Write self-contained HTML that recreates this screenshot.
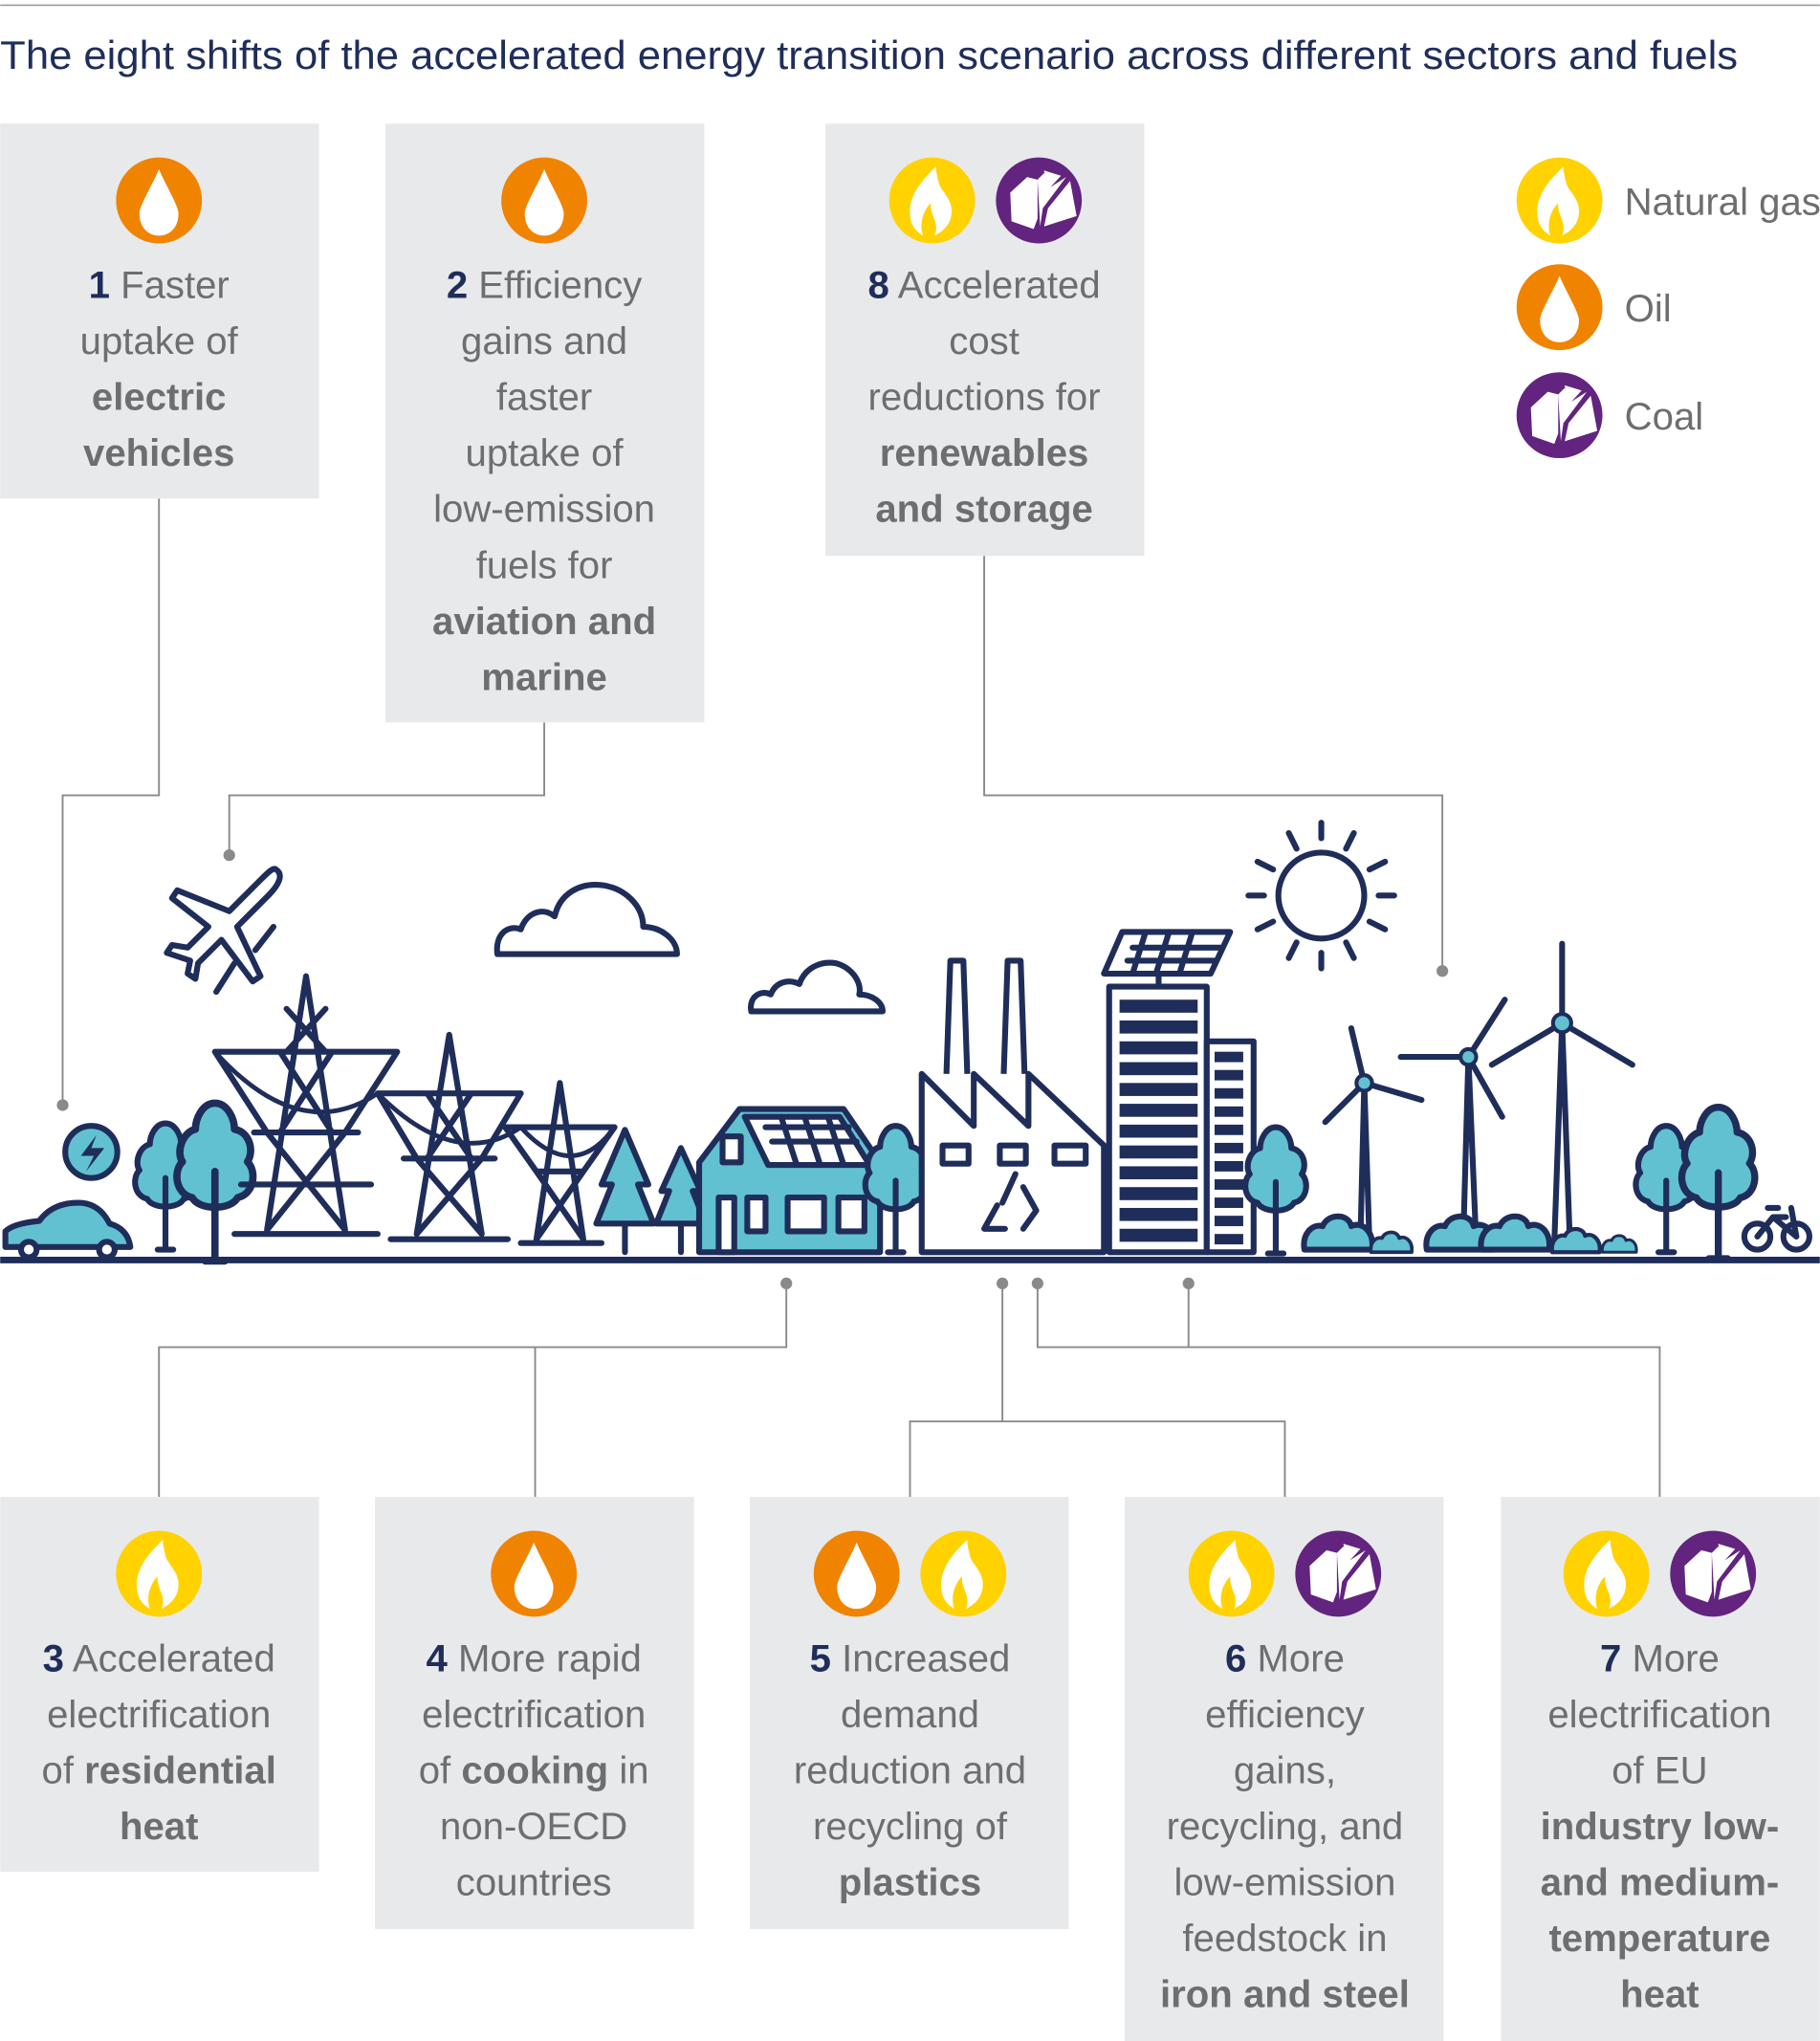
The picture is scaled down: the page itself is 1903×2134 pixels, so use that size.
<!DOCTYPE html>
<html><head><meta charset="utf-8"><style>
html,body{margin:0;padding:0;background:#fff;}
svg{display:block;}
text{font-family:"Liberation Sans",sans-serif;}
.t{font-size:29.5px;fill:#6d6e70;text-anchor:middle;}
.b{font-weight:bold;}
.n{fill:#1f2d5a;font-weight:bold;}
.c{fill:none;stroke:#8a8a8a;stroke-width:1.4;}
.k{fill:none;stroke:#1f2d5a;stroke-width:4.5;stroke-linejoin:round;stroke-linecap:round;}
.tl{fill:#62c1d0;stroke:#1f2d5a;stroke-width:4.5;stroke-linejoin:round;}
.w{fill:#fff;stroke:#1f2d5a;stroke-width:4.5;stroke-linejoin:round;}
</style></head><body>
<svg width="1903" height="2134" viewBox="0 0 1398 1568" xmlns="http://www.w3.org/2000/svg" xmlns:xlink="http://www.w3.org/1999/xlink">
<defs>
<g id="gas"><circle r="33" fill="#ffd200"/><path d="M3,-26 C-10,-14 -18,-2 -17,10 C-17,19 -12,24 -7,27 C-10,18 -7,8 -1,2 C-2,12 6,16 2,27 C10,23 15,17 15,8 C15,-2 6,-8 5,-14 C4,-18 3,-22 3,-26Z" fill="#fff"/></g>
<g id="oil"><circle r="33" fill="#f08300"/><path d="M0,-24 C-5,-12 -15,4 -15,10 C-15,20 -9,27 0,27 C9,27 15,20 15,10 C15,4 5,-12 0,-24Z" fill="#fff"/></g>
<g id="coal"><circle r="33" fill="#62247f"/><path d="M-22,-6 L-9,-18 L-1,-16 L-1,14 L-4,22 L-21,16Z M4,-23 L17,-19 L6,-7Z M4,20 L7,6 L24,-15 L29,12Z M-1,-16 L4,-21 L7,-9 L21,-18 L3,6 L1,20Z" fill="#fff"/></g>
<g id="tree"><path class="tl" d="M0,-62 C8,-62 12,-52 12,-46 C22,-44 24,-32 20,-26 C26,-20 24,-6 14,-4 C10,4 -10,4 -14,-4 C-24,-6 -26,-20 -20,-26 C-24,-32 -20,-44 -12,-46 C-12,-52 -8,-62 0,-62Z"/><path class="k" d="M0,-20 V35 M-6,35 H6"/></g>
<g id="bush"><path class="tl" d="M-28,0 C-30,-12 -22,-20 -14,-18 C-10,-28 6,-28 8,-18 C16,-22 26,-14 24,0Z"/></g>
</defs>
<rect width="1398" height="1568" fill="#fff"/>
<line x1="0" y1="4" x2="1398" y2="4" stroke="#9a9a9a" stroke-width="1.2"/>
<text x="0" y="53" textLength="1335" lengthAdjust="spacingAndGlyphs" style="font-size:30.5px;fill:#1f2d5a">The eight shifts of the accelerated energy transition scenario across different sectors and fuels</text>

<!-- connectors -->
<path class="c" d="M122,383 V611 H48 V849 M418,555 V611 H176 V657 M756,427 V611 H1108 V746"/>
<path class="c" d="M604,986 V1035 H122 V1150 M411,1035 V1150 M770,986 V1092 M699,1150 V1092 H987 V1150 M797,986 V1035 H1275 V1150 M913,986 V1035"/>
<g fill="#8a8a8a"><circle cx="48" cy="849" r="4.5"/><circle cx="176" cy="657" r="4.5"/><circle cx="1108" cy="746" r="4.5"/><circle cx="604" cy="986" r="4.5"/><circle cx="770" cy="986" r="4.5"/><circle cx="797" cy="986" r="4.5"/><circle cx="913" cy="986" r="4.5"/></g>

<!-- boxes -->
<g fill="#e8e9eb">
<rect x="0" y="95" width="245" height="288"/><rect x="296" y="95" width="245" height="460"/><rect x="634" y="95" width="245" height="332"/>
<rect x="0" y="1150" width="245" height="288"/><rect x="288" y="1150" width="245" height="332"/><rect x="576" y="1150" width="245" height="332"/><rect x="864" y="1150" width="245" height="418"/><rect x="1153" y="1150" width="245" height="418"/>
</g>
<use xlink:href="#oil" x="122" y="154"/><use xlink:href="#oil" x="418" y="154"/><use xlink:href="#gas" x="716" y="154"/><use xlink:href="#coal" x="798" y="154"/>
<use xlink:href="#gas" x="122" y="1209"/><use xlink:href="#oil" x="410" y="1209"/><use xlink:href="#oil" x="658" y="1209"/><use xlink:href="#gas" x="740" y="1209"/><use xlink:href="#gas" x="946" y="1209"/><use xlink:href="#coal" x="1028" y="1209"/><use xlink:href="#gas" x="1234" y="1209"/><use xlink:href="#coal" x="1316" y="1209"/>
<use xlink:href="#gas" x="1198" y="154"/><use xlink:href="#oil" x="1198" y="236"/><use xlink:href="#coal" x="1198" y="319"/>
<text x="1248" y="165" style="font-size:29.5px;fill:#6d6e70">Natural gas</text>
<text x="1248" y="247" style="font-size:29.5px;fill:#6d6e70">Oil</text>
<text x="1248" y="330" style="font-size:29.5px;fill:#6d6e70">Coal</text>

<g class="t">
<text x="122" y="229"><tspan class="n">1</tspan> Faster</text><text x="122" y="272">uptake of</text><text x="122" y="315" class="b">electric</text><text x="122" y="358" class="b">vehicles</text>
<text x="418" y="229"><tspan class="n">2</tspan> Efficiency</text><text x="418" y="272">gains and</text><text x="418" y="315">faster</text><text x="418" y="358">uptake of</text><text x="418" y="401">low-emission</text><text x="418" y="444">fuels for</text><text x="418" y="487" class="b">aviation and</text><text x="418" y="530" class="b">marine</text>
<text x="756" y="229"><tspan class="n">8</tspan> Accelerated</text><text x="756" y="272">cost</text><text x="756" y="315">reductions for</text><text x="756" y="358" class="b">renewables</text><text x="756" y="401" class="b">and storage</text>
<text x="122" y="1284"><tspan class="n">3</tspan> Accelerated</text><text x="122" y="1327">electrification</text><text x="122" y="1370">of <tspan class="b">residential</tspan></text><text x="122" y="1413" class="b">heat</text>
<text x="410" y="1284"><tspan class="n">4</tspan> More rapid</text><text x="410" y="1327">electrification</text><text x="410" y="1370">of <tspan class="b">cooking</tspan> in</text><text x="410" y="1413">non-OECD</text><text x="410" y="1456">countries</text>
<text x="699" y="1284"><tspan class="n">5</tspan> Increased</text><text x="699" y="1327">demand</text><text x="699" y="1370">reduction and</text><text x="699" y="1413">recycling of</text><text x="699" y="1456" class="b">plastics</text>
<text x="987" y="1284"><tspan class="n">6</tspan> More</text><text x="987" y="1327">efficiency</text><text x="987" y="1370">gains,</text><text x="987" y="1413">recycling, and</text><text x="987" y="1456">low-emission</text><text x="987" y="1499">feedstock in</text><text x="987" y="1542" class="b">iron and steel</text>
<text x="1275" y="1284"><tspan class="n">7</tspan> More</text><text x="1275" y="1327">electrification</text><text x="1275" y="1370">of EU</text><text x="1275" y="1413" class="b">industry low-</text><text x="1275" y="1456" class="b">and medium-</text><text x="1275" y="1499" class="b">temperature</text><text x="1275" y="1542" class="b">heat</text>
</g>

<!-- illustration -->
<path class="k" d="M212,668 C218,672 214,680 206,688 L182,712 L200,750 L194,754 L170,722 L152,740 L150,752 L144,748 L146,738 L128,732 L132,726 L144,728 L160,712 L132,690 L136,684 L176,700 L200,676 C206,670 210,666 212,668Z M180,740 L166,762 M210,712 L196,730"/>
<path class="k" d="M382,733 C380,718 390,710 400,714 C404,702 416,696 426,704 C430,686 446,678 462,680 C480,682 494,696 494,712 C508,712 520,722 520,733 Z"/>
<path class="k" d="M577,777 C575,766 584,760 592,764 C596,754 606,752 614,756 C618,744 630,738 642,740 C656,744 662,756 660,764 C670,764 678,770 678,777Z"/>
<circle class="k" cx="1015" cy="688" r="33"/>
<path class="k" d="M1015,632 V644 M1015,732 V744 M959,688 H971 M1059,688 H1071 M990,640 L996,652 M1040,640 L1034,652 M990,736 L996,724 M1040,736 L1034,724 M966,662 L978,668 M1064,662 L1052,668 M966,714 L978,708 M1064,714 L1052,708"/>
<circle class="tl" cx="70" cy="885" r="20"/><path d="M74,872 L62,888 L72,888 L66,900 L80,882 L70,882Z" fill="#1f2d5a"/>
<path class="tl" d="M4,958 L4,946 Q10,940 30,938 Q40,924 60,924 Q76,924 84,940 Q98,944 100,958Z"/>
<circle class="w" cx="22" cy="960" r="6"/><circle class="w" cx="82" cy="960" r="6"/>
<use xlink:href="#tree" x="127" y="925"/><use xlink:href="#tree" x="165" y="925" transform="translate(165 925) scale(1.25) translate(-165 -925)"/>
<g class="k">
<path d="M235,750 L205,945 M235,750 L265,945 M165,808 H305 M165,808 L205,870 L265,870 L305,808 M195,870 H275 M185,910 H285 M205,945 L265,870 M265,945 L205,870 M215,808 L255,870 M255,808 L215,870 M220,775 L250,808 M250,775 L220,808 M180,948 H290"/>
<path d="M345,795 L320,948 M345,795 L370,948 M290,840 H400 M290,840 L320,890 L370,890 L400,840 M310,890 H380 M320,948 L370,890 M370,948 L320,890 M328,840 L362,890 M362,840 L328,890 M300,952 H390"/>
<path d="M430,832 L412,952 M430,832 L448,952 M388,866 H472 M388,866 L412,900 L448,900 L472,866 M412,952 L448,900 M448,952 L412,900 M400,955 H462"/>
<path d="M165,808 Q230,880 290,840 Q350,900 400,866 Q440,910 472,866" stroke-width="3.5"/>
</g>
<path class="tl" d="M480,868 L462,910 L470,910 L458,940 L502,940 L490,910 L498,910Z"/><path class="k" d="M480,940 V962"/>
<path class="tl" d="M523,882 L508,915 L514,915 L504,940 L542,940 L532,915 L538,915Z"/><path class="k" d="M523,940 V962"/>
<path class="tl" d="M537,962 V893 L568,852 L648,852 L676,893 V962Z"/>
<path class="w" d="M572,858 L645,858 L668,895 L590,895Z"/>
<path class="k" d="M588,866 H652 M593,877 H658 M600,858 L612,895 M618,858 L630,895 M636,858 L648,895" stroke-width="3"/>
<rect class="w" x="555" y="873" width="14" height="20"/>
<rect class="w" x="552" y="920" width="12" height="42"/><rect class="w" x="574" y="920" width="14" height="26"/><rect class="w" x="605" y="920" width="28" height="26"/><rect class="w" x="644" y="920" width="20" height="26"/>
<use xlink:href="#tree" x="688" y="927"/>
<path class="w" d="M708,962 V825 L748,865 V825 L790,865 V825 L848,880 V962Z"/>
<path class="w" d="M727,825 L730,738 H740 L743,825 M771,825 L774,738 H784 L787,825"/>
<rect class="w" x="724" y="880" width="20" height="14"/><rect class="w" x="768" y="880" width="20" height="14"/><rect class="w" x="810" y="880" width="24" height="14"/>
<path class="k" d="M780,902 L770,924 M786,912 L796,930 L786,944 M772,944 H756 L766,926" stroke-width="3.5"/>
<path class="w" d="M862,716 H945 L930,748 H848Z"/>
<path class="k" d="M870,728 H938 M866,738 H934 M880,716 L870,748 M898,716 L888,748 M916,716 L906,748" stroke-width="3"/>
<path class="k" d="M890,748 V758"/>
<rect class="w" x="852" y="758" width="75" height="204"/>
<g fill="#1f2d5a">
<rect x="860" y="768" width="60" height="10"/><rect x="860" y="784" width="60" height="10"/><rect x="860" y="800" width="60" height="10"/><rect x="860" y="816" width="60" height="10"/><rect x="860" y="832" width="60" height="10"/><rect x="860" y="848" width="60" height="10"/><rect x="860" y="864" width="60" height="10"/><rect x="860" y="880" width="60" height="10"/><rect x="860" y="896" width="60" height="10"/><rect x="860" y="912" width="60" height="10"/><rect x="860" y="928" width="60" height="10"/><rect x="860" y="944" width="60" height="10"/>
</g>
<rect class="w" x="927" y="800" width="36" height="162"/>
<g fill="#1f2d5a"><rect x="933" y="808" width="22" height="8"/><rect x="933" y="822" width="22" height="8"/><rect x="933" y="836" width="22" height="8"/><rect x="933" y="850" width="22" height="8"/><rect x="933" y="864" width="22" height="8"/><rect x="933" y="878" width="22" height="8"/><rect x="933" y="892" width="22" height="8"/><rect x="933" y="906" width="22" height="8"/><rect x="933" y="920" width="22" height="8"/><rect x="933" y="934" width="22" height="8"/><rect x="933" y="948" width="22" height="8"/></g>
<use xlink:href="#tree" x="980" y="928"/>
<g class="k">
<path d="M1045,955 L1048,832 L1052,955 M1048,832 L1038,790 M1048,832 L1092,845 M1048,832 L1018,862"/>
<path d="M1124,955 L1128,812 L1134,955 M1128,812 L1156,768 M1128,812 L1076,812 M1128,812 L1154,858"/>
<path d="M1194,955 L1200,786 L1206,955 M1200,786 L1200,725 M1200,786 L1254,818 M1200,786 L1146,818"/>
</g>
<g fill="#62c1d0" stroke="#1f2d5a" stroke-width="3"><circle cx="1048" cy="832" r="6"/><circle cx="1128" cy="812" r="6"/><circle cx="1200" cy="786" r="7"/></g>
<use xlink:href="#bush" x="1030" y="960"/><use xlink:href="#bush" x="1070" y="962" transform="translate(1070 962) scale(.6) translate(-1070 -962)"/>
<use xlink:href="#bush" x="1124" y="960"/><use xlink:href="#bush" x="1166" y="960"/><use xlink:href="#bush" x="1212" y="962" transform="translate(1212 962) scale(.7) translate(-1212 -962)"/><use xlink:href="#bush" x="1245" y="962" transform="translate(1245 962) scale(.5) translate(-1245 -962)"/>
<use xlink:href="#tree" x="1280" y="927"/><use xlink:href="#tree" x="1320" y="925" transform="translate(1320 925) scale(1.2) translate(-1320 -925)"/>
<g class="k" stroke-width="3.5"><circle cx="1350" cy="950" r="10"/><circle cx="1380" cy="950" r="10"/><path d="M1350,950 L1362,935 L1380,950 M1362,935 L1372,935 M1358,928 H1366 M1376,928 L1380,950"/></g>
<line x1="0" y1="968" x2="1398" y2="968" stroke="#1f2d5a" stroke-width="5"/>
</svg>
</body></html>
